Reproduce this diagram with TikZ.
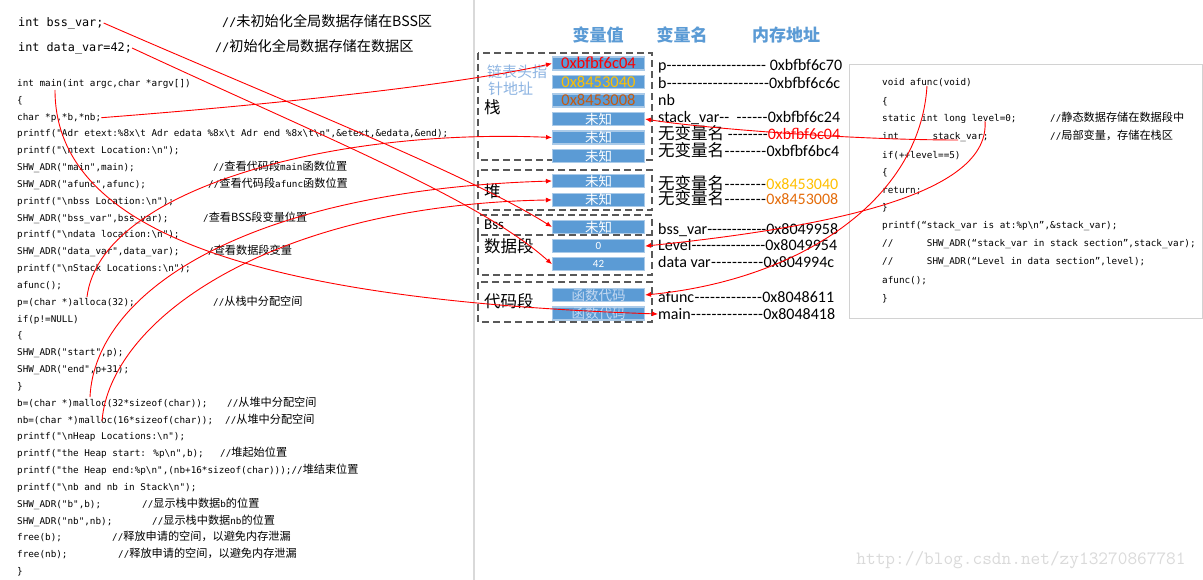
\documentclass[tikz,border=0pt]{standalone}
\usepackage{fontspec}
\setmainfont{Carlito}
\newfontfamily\cjk{Noto Sans CJK SC}
\newfontfamily\cjkc[Scale=1.2]{Noto Sans CJK SC}
\newfontfamily\codefont[Ligatures=TeXOff]{DejaVu Sans Mono}
\usepackage{xcolor}
\usetikzlibrary{arrows.meta,positioning}
\definecolor{cellblue}{RGB}{91,155,213}
\definecolor{cellline}{RGB}{170,202,232}
\definecolor{headblue}{RGB}{91,155,213}
\definecolor{hintblue}{RGB}{141,180,226}
\definecolor{segline}{RGB}{89,89,89}
\definecolor{valgold}{RGB}{255,192,0}
\definecolor{valorange}{RGB}{197,90,17}
\definecolor{addrorange}{RGB}{228,108,10}
\definecolor{fnblue}{RGB}{197,217,241}
\definecolor{boxgray}{RGB}{210,210,210}
\definecolor{markgray}{RGB}{218,218,218}
\newcommand{\zhc}[1]{{\cjkc #1}}
\newcommand{\zhl}[1]{{\cjk\fontsize{16.5}{16.5}\selectfont #1}}
\newcommand{\bsl}{\textbackslash}
\newcommand{\addrrow}[3]{\makebox[#1][l]{#2\xleaders\hbox{-}\hfill#3}}
\tikzset{
  code/.style={anchor=west, inner sep=0pt, text height=6.8pt, text depth=1.9pt,
               font=\codefont\fontsize{9.3}{10}\selectfont},
  bigcode/.style={anchor=west, inner sep=0pt, text height=8.6pt, text depth=2.4pt,
                  font=\codefont\fontsize{11.8}{12}\selectfont},
  cell/.style={rectangle, draw=cellline, fill=cellblue, line width=1.1pt,
               minimum width=92pt, minimum height=13pt, inner sep=0pt,
               text height=10.3pt, text depth=0pt},
  val/.style={font=\fontsize{16.5}{16.5}\selectfont},
  unk/.style={font=\cjk\fontsize{13.5}{13.5}\selectfont, text=white, text height=10.2pt},
  fn/.style={font=\cjk\fontsize{13.5}{13.5}\selectfont, text=fnblue, text height=10.2pt},
  num/.style={font=\fontsize{11}{11}\selectfont, text=white, text height=7.1pt},
  seg/.style={draw=segline, dash pattern=on 7pt off 4pt, line width=1.3pt},
  seglbl/.style={anchor=west, inner sep=0pt, font=\cjk\fontsize{16.5}{16.5}\selectfont},
  hint/.style={anchor=west, inner sep=0pt, text=hintblue,
               font=\cjk\fontsize{15}{15}\selectfont},
  head/.style={inner sep=0pt, text=headblue, font=\cjk\bfseries\fontsize{17}{17}\selectfont},
  addr/.style={anchor=west, inner sep=0pt, text height=10.5pt, text depth=0pt,
               font=\fontsize{16}{16}\selectfont},
  link/.style={draw=red, line width=0.9pt, -{Latex[length=6pt,width=5pt]}},
}
\begin{document}
\begin{tikzpicture}[x=1pt, y=-1pt]
  \fill[white] (0,0) rectangle (1203,580);
  \useasboundingbox (0,0) rectangle (1203,580);

  % panels
  \draw[gray!30, line width=1.2pt] (474,0) -- (474,580);
  \draw[boxgray, line width=0.8pt] (849,64) rectangle (1202,318);

  % main() code
  \node[bigcode] (bssline) at (18,23) {int bss\_var;};
  \node[bigcode] (bsscmt) at (222,23) {//\zhc{未初始化全局数据存储在BSS区}};
  \node[bigcode] (dataline) at (18,48) {int data\_var=42;};
  \node[bigcode] (datacmt) at (215,48) {//\zhc{初始化全局数据存储在数据区}};
  \node[code] (l0) at (17,84.0) {int main(int argc,char *argv[])};
  \node[code] (l1) at (17,100.8) {\{};
  \node[code] (l2) at (17,117.7) {char *p,*b,*nb;};
  \node[code] (l3) at (17,134.5) {printf("Adr etext:\%8x\bsl t Adr edata \%8x\bsl t Adr end \%8x\bsl t\bsl n",\&etext,\&edata,\&end);};
  \node[code] (l4) at (17,151.3) {printf("\bsl ntext Location:\bsl n");};
  \node[code] (l5) at (17,168.2) {SHW\_ADR("main",main);};
  \node[code] (m5) at (213,168.2) {//\zhc{查看代码段}main\zhc{函数位置}};
  \node[code] (l6) at (17,185.0) {SHW\_ADR("afunc",afunc);};
  \node[code] (m6) at (208,185.0) {//\zhc{查看代码段}afunc\zhc{函数位置}};
  \node[code] (l7) at (17,201.8) {printf("\bsl nbss Location:\bsl n");};
  \node[code] (l8) at (17,218.6) {SHW\_ADR("bss\_var",bss\_var);};
  \node[code] (m8) at (203,218.6) {/\zhc{查看BSS段变量位置}};
  \node[code] (l9) at (17,235.5) {printf("\bsl ndata location:\bsl n");};
  \node[code] (l10) at (17,252.3) {SHW\_ADR("data\_var",data\_var);};
  \node[code] (m10) at (208,252.3) {/\zhc{查看数据段变量}};
  \node[code] (l11) at (17,269.1) {printf("\bsl nStack Locations:\bsl n");};
  \node[code] (l12) at (17,286.0) {afunc();};
  \node[code] (l13) at (17,302.8) {p=(char *)alloca(32);};
  \node[code] (m13) at (213,302.8) {//\zhc{从栈中分配空间}};
  \node[code] (l14) at (17,319.6) {if(p!=NULL)};
  \node[code] (l15) at (17,336.5) {\{};
  \node[code] (l16) at (17,353.3) {SHW\_ADR("start",p);};
  \node[code] (l17) at (17,370.1) {SHW\_ADR("end",p+31);};
  \node[code] (l18) at (17,386.9) {\}};
  \node[code] (l19) at (17,403.8) {b=(char *)malloc(32*sizeof(char));};
  \node[code] (m19) at (227,403.8) {//\zhc{从堆中分配空间}};
  \node[code] (l20) at (17,420.6) {nb=(char *)malloc(16*sizeof(char));};
  \node[code] (m20) at (225,420.6) {//\zhc{从堆中分配空间}};
  \node[code] (l21) at (17,437.4) {printf("\bsl nHeap Locations:\bsl n");};
  \node[code] (l22) at (17,454.3) {printf("the Heap start: \%p\bsl n",b);};
  \node[code] (m22) at (220,454.3) {//\zhc{堆起始位置}};
  \node[code] (l23) at (17,471.1) {printf("the Heap end:\%p\bsl n",(nb+16*sizeof(char)));//\zhc{堆结束位置}};
  \node[code] (l24) at (17,487.9) {printf("\bsl nb and nb in Stack\bsl n");};
  \node[code] (l25) at (17,504.8) {SHW\_ADR("b",b);};
  \node[code] (m25) at (142,504.8) {//\zhc{显示栈中数据}b\zhc{的位置}};
  \node[code] (l26) at (17,521.6) {SHW\_ADR("nb",nb);};
  \node[code] (m26) at (152,521.6) {//\zhc{显示栈中数据}nb\zhc{的位置}};
  \node[code] (l27) at (17,538.4) {free(b);};
  \node[code] (m27) at (112,538.4) {//\zhc{释放申请的空间，以避免内存泄漏}};
  \node[code] (l28) at (17,555.2) {free(nb);};
  \node[code] (m28) at (118,555.2) {//\zhc{释放申请的空间，以避免内存泄漏}};
  \node[code] (l29) at (17,572.1) {\}};

  % afunc() code
  \node[code] (r0) at (882,83.3) {void afunc(void)};
  \node[code] (r1) at (882,101.7) {\{};
  \node[code] (r2) at (882,119.3) {static int long level=0;};
  \node[code] (rc2) at (1050,119.3) {//\zhc{静态数据存储在数据段中}};
  \node[code] (r3) at (882,137.3) {int\hspace{33.5pt}stack\_var;};
  \node[code] (rc3) at (1050,137.3) {//\zhc{局部变量，存储在栈区}};
  \node[code] (r4) at (882,156) {if(++level==5)};
  \node[code] (r5) at (882,173.3) {\{};
  \node[code] (r6) at (882,190.7) {return;};
  \node[code] (r7) at (882,208.3) {\}};
  \node[code] (r8) at (882,225.7) {printf(“stack\_var is at:\%p\bsl n”,\&stack\_var);};
  \node[code] (r9) at (882,244) {//\hspace{33.5pt}SHW\_ADR(“stack\_var in stack section”,stack\_var);};
  \node[code] (r10) at (882,262.3) {//\hspace{33.5pt}SHW\_ADR(“Level in data section”,level);};
  \node[code] (r11) at (882,280.7) {afunc();};
  \node[code] (r12) at (882,299) {\}};

  % memory segments
  \draw[seg] (478,53) rectangle (652,160);
  \draw[seg] (478,170) rectangle (652,210);
  \draw[seg] (478,235) -- (478,215) -- (652,215) -- (652,235);
  \draw[seg] (478,235) rectangle (652,275);
  \draw[seg] (478,282) rectangle (652,322);

  \node[head] (hval) at (598,35) {变量值};
  \node[head] (hname) at (682,35) {变量名};
  \node[head] (haddr) at (786,35) {内存地址};

  \node[hint] (hint1) at (487,72) {链表头指};
  \node[hint] (hint2) at (488,89) {针地址};
  \node[seglbl] (stklbl) at (484,107) {栈};
  \node[seglbl] (heaplbl) at (484,191) {堆};
  \node[seglbl, font=\fontsize{15}{15}\selectfont] (bsslbl) at (484,225) {Bss};
  \node[seglbl] (datalbl) at (484,246) {数据段};
  \node[seglbl] (codelbl) at (484,301) {代码段};

  % stack cells
  \node[cell, val, text=red] (c1) at (598.5,63.5) {0xbfbf6c04};
  \node[cell, val, below=4.4pt of c1, text=valgold] (c2) {0x8453040};
  \node[cell, val, below=4.4pt of c2, text=valorange] (c3) {0x8453008};
  \node[cell, unk, below=4.4pt of c3] (c4) {未知};
  \node[cell, unk, below=4.4pt of c4] (c5) {未知};
  \node[cell, unk, below=4.4pt of c5] (c6) {未知};
  % heap, bss, data, code cells
  \node[cell, unk] (h1) at (598.5,181) {未知};
  \node[cell, unk, below=4.8pt of h1] (h2) {未知};
  \node[cell, unk] (bsscell) at (598.5,227) {未知};
  \node[cell, num, below=5pt of bsscell] (d0) {0};
  \node[cell, num, below=4pt of d0] (d42) {42};
  \node[cell, fn] (fa) at (598.5,295) {函数代码};
  \node[cell, fn, below=4.4pt of fa] (fm) {函数代码};

  % names and addresses
  \node[addr] (prow) at (658,65) {\addrrow{184pt}{p}{\ 0xbfbf6c70}};
  \node[addr] (brow) at (658,83) {\addrrow{182pt}{b}{0xbfbf6c6c}};
  \node[addr] (nbrow) at (658,100) {nb};
  \node[addr] (svrow) at (658,117) {\addrrow{182pt}{stack\_var\hbox{-}\hbox{-}\ \ }{0xbfbf6c24}};
  \node[addr] (u1row) at (658,134) {\addrrow{182pt}{\zhl{无变量名}\ }{\textcolor{red}{0xbfbf6c04}}};
  \node[addr] (u2row) at (658,151) {\addrrow{181pt}{\zhl{无变量名}}{0xbfbf6bc4}};
  \node[addr] (h1row) at (658,184) {\addrrow{180pt}{\zhl{无变量名}}{\textcolor{valgold}{0x8453040}}};
  \node[addr] (h2row) at (658,199) {\addrrow{180pt}{\zhl{无变量名}}{\textcolor{addrorange}{0x8453008}}};
  \node[addr] (bssrow) at (658,229) {\addrrow{180pt}{bss\_var}{0x8049958}};
  \node[addr] (lvlrow) at (658,245) {\addrrow{179pt}{Level}{0x8049954}};
  \node[addr] (datarow) at (658,262) {\addrrow{176pt}{data var}{0x804994c}};
  \node[addr] (afrow) at (658,297) {\addrrow{176pt}{afunc}{0x8048611}};
  \node[addr] (mainrow) at (658,314) {\addrrow{177pt}{main}{0x8048418}};

  \node[font=\ttfamily\fontsize{18.8}{19}\selectfont, text=markgray] (mark) at (1021,560) {http://blog.csdn.net/zy13270867781};

  % where each variable lives
  \coordinate (main-src) at (55,90);
  \coordinate (alloca-src) at (87,297);
  \coordinate (b-src) at (90,397);
  \coordinate (nb-src) at (102,421);
  \coordinate (afunc-src) at (927,86);
  \coordinate (lvl-src) at (985,121);
  \coordinate (stk-src) at (958,140);
  \draw[link] (l2.east) .. controls (330,100) and (480,80) .. (c1.west);
  \draw[link] (stk-src) .. controls (850,140) and (700,128) .. (c4.east);
  \draw[link] (alloca-src) .. controls (100,190) and (330,128) .. (c5.west);
  \draw[link] (b-src) .. controls (95,290) and (250,190) .. (h1.west);
  \draw[link] (nb-src) .. controls (110,320) and (270,205) .. (h2.west);
  \draw[link] (bssline.east) .. controls (280,100) and (470,175) .. (bsscell.west);
  \draw[link] (dataline.east) .. controls (330,140) and (480,200) .. (d42.west);
  \draw[link] (lvl-src) .. controls (990,190) and (850,225) .. (d0.east);
  \draw[link] (afunc-src) .. controls (920,200) and (800,280) .. (fa.east);
  \draw[link] (main-src) .. controls (55,230) and (250,300) .. (mainrow.west);
\end{tikzpicture}
\end{document}
